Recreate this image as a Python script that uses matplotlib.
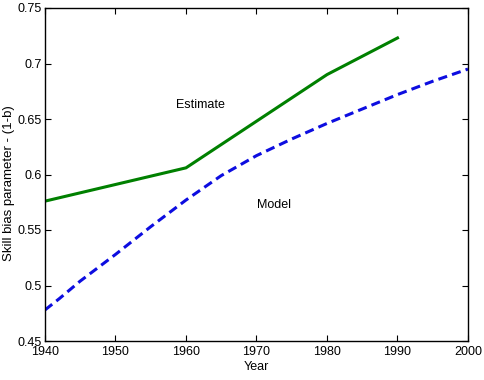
import matplotlib
matplotlib.use("Agg")
import matplotlib.pyplot as plt

est_years = [1940, 1960, 1980, 1990]
est_vals = [0.576, 0.606, 0.690, 0.723]

model_years = [1940, 1942, 1945, 1950, 1955, 1960, 1965, 1970, 1975, 1980, 1985, 1990, 1995, 2000]
model_vals = [0.478, 0.488, 0.504, 0.528, 0.553, 0.577, 0.599, 0.617, 0.632, 0.646, 0.659, 0.672, 0.684, 0.695]

xticks = [1940, 1950, 1960, 1970, 1980, 1990, 2000]
yticks = [0.45, 0.5, 0.55, 0.6, 0.65, 0.7, 0.75]
yticklabels = ["0.45", "0.5", "0.55", "0.6", "0.65", "0.7", "0.75"]

plt.rcParams['font.family'] = ['Liberation Sans', 'DejaVu Sans']

fig = plt.figure(figsize=(4.84, 3.80), dpi=100)
ax = fig.add_axes([45/484, 39/380, 423/484, 333/380])

ax.plot(est_years, est_vals, color='#008000', lw=2.2, solid_joinstyle='miter')
ax.plot(model_years, model_vals, color='#0d0de0', lw=2.2, dashes=(3.0, 1.7))

ax.text(1962, 0.6625, "Estimate", ha='center', va='center', fontsize=9)
ax.text(1972.5, 0.5725, "Model", ha='center', va='center', fontsize=9)

ax.set_xlim(1940, 2000)
ax.set_ylim(0.45, 0.75)
ax.set_xticks(xticks)
ax.set_yticks(yticks)
ax.set_yticklabels(yticklabels)
ax.tick_params(direction='in', top=True, right=True, length=4, labelsize=9, width=0.8, pad=2)
ax.tick_params(axis='x', pad=3.5)
ax.tick_params(axis='y', pad=2.5)
for s in ax.spines.values():
    s.set_linewidth(1.0)
ax.set_xlabel("Year", fontsize=9, labelpad=2)
ax.set_ylabel("Skill bias parameter - (1-b)", fontsize=9.5)
ax.yaxis.set_label_coords(-0.071, 0.475)

fig.savefig("out.png", dpi=100)
